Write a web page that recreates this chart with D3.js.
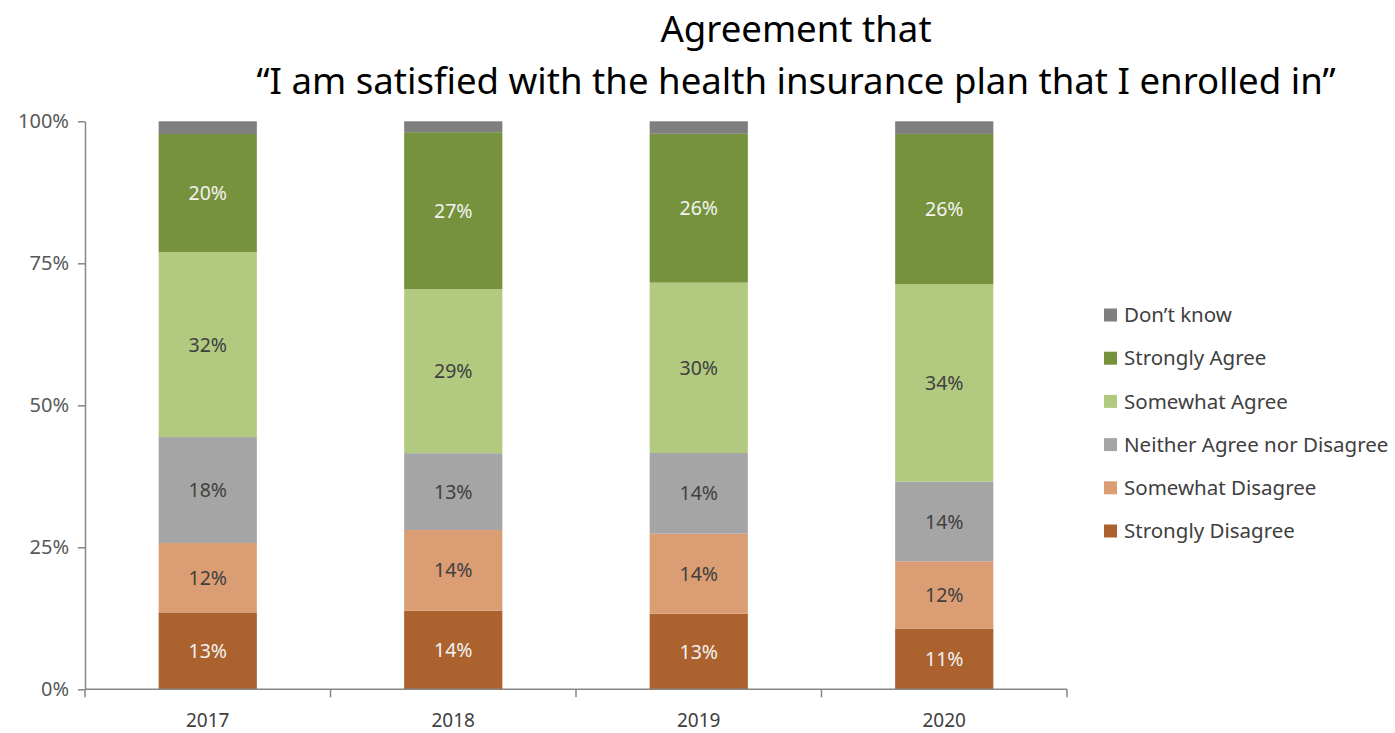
<!DOCTYPE html>
<html><head><meta charset="utf-8">
<script src="https://cdn.jsdelivr.net/npm/d3@7"></script>
<style>
html,body{margin:0;padding:0;background:#fff;}
text{font-family:"Noto Sans","Open Sans",sans-serif;}
</style></head>
<body><svg id="c" width="1395" height="733"></svg>
<script>
const years = ["2017","2018","2019","2020"];
const seriesNames = ["Strongly Disagree","Somewhat Disagree","Neither Agree nor Disagree","Somewhat Agree","Strongly Agree","Don\u2019t know"];
const stronglyDisagree = [13.3, 13.7, 13.3, 10.6];
const somewhatDisagree = [12.0, 14.1, 14.1, 11.7];
const neither          = [18.3, 13.4, 14.2, 13.9];
const somewhatAgree    = [32.0, 28.6, 30.0, 34.4];
const stronglyAgree    = [20.4, 27.4, 26.2, 26.2];
const dontKnow         = [2.2, 1.9, 2.2, 2.2];
const yTicks = [0, 0.25, 0.5, 0.75, 1];
const colors = ["#ab622e","#da9d74","#a5a5a5","#b2ca80","#76923c","#7f7f7f"];
const labelColors = ["#f2f2f2","#404040","#404040","#404040","#f2f2f2",null];

const seriesVals = [stronglyDisagree, somewhatDisagree, neither, somewhatAgree, stronglyAgree, dontKnow];
const rows = years.map((y,i)=>{const o={year:y}; seriesNames.forEach((s,k)=>o[s]=seriesVals[k][i]); return o;});
const stack = d3.stack().keys(seriesNames).offset(d3.stackOffsetExpand)(rows);

const svg = d3.select("#c");
const x0 = 85, x1 = 1067, yTop = 121.3, yBot = 689.3;
const x = d3.scaleBand().domain(years).range([x0, x1]).padding(0);
const y = d3.scaleLinear().domain([0,1]).range([yBot, yTop]);
const bw = x.bandwidth()*0.4;

// bars
const g = svg.append("g");
stack.forEach((layer,k)=>{
  g.selectAll(null).data(layer).enter().append("rect")
    .attr("x", d=>x(d.data.year)+x.bandwidth()/2-bw/2)
    .attr("width", bw)
    .attr("y", d=>y(d[1]))
    .attr("height", d=>y(d[0])-y(d[1]))
    .attr("fill", colors[k]);
  if(labelColors[k]){
    g.selectAll(null).data(layer).enter().append("text")
      .attr("x", d=>x(d.data.year)+x.bandwidth()/2)
      .attr("y", d=>(y(d[0])+y(d[1]))/2)
      .attr("dy","0.36em")
      .attr("text-anchor","middle")
      .attr("font-size",19.5)
      .attr("fill", labelColors[k])
      .text((d,i)=>d3.format(".0f")(seriesVals[k][i])+"%");
  }
});

// y axis
const yAxis = d3.axisLeft(y).tickValues(yTicks).tickFormat(d3.format(".0%")).tickSize(7).tickSizeOuter(0).tickPadding(9);
const ya = svg.append("g").attr("transform",`translate(${x0},0)`).call(yAxis);
ya.attr("font-size",null).attr("font-family",null);
ya.select(".domain").attr("stroke","#868686").attr("stroke-width",1.5);
ya.selectAll(".tick line").attr("stroke","#868686").attr("stroke-width",1.5);
ya.selectAll(".tick text").attr("font-size",20).attr("fill","#595959");

// x axis
const xa = svg.append("g").attr("transform",`translate(0,${yBot})`);
xa.append("line").attr("x1",x0).attr("x2",x1).attr("stroke","#868686").attr("stroke-width",1.5);
const bounds = years.map(d=>x(d)).concat([x1]);
xa.selectAll(null).data(bounds).enter().append("line")
  .attr("x1",d=>d).attr("x2",d=>d).attr("y1",0).attr("y2",8)
  .attr("stroke","#868686").attr("stroke-width",1.5);
xa.selectAll(null).data(years).enter().append("text")
  .attr("x",d=>x(d)+x.bandwidth()/2).attr("y",37.5)
  .attr("text-anchor","middle").attr("font-size",19).attr("fill","#404040").text(d=>d);

// title
const title = svg.append("text").attr("text-anchor","middle").attr("font-size",36.6).attr("fill","#000");
title.append("tspan").attr("x",796).attr("y",42).text("Agreement that");
title.append("tspan").attr("x",796).attr("y",94).text("\u201CI am satisfied with the health insurance plan that I enrolled in\u201D");

// legend
const legendOrder = seriesNames.slice().reverse();
const lg = svg.append("g");
legendOrder.forEach((s,i)=>{
  const cy = 315 + i*43.2;
  const k = seriesNames.indexOf(s);
  lg.append("rect").attr("x",1104).attr("y",cy-6.5).attr("width",13).attr("height",13).attr("fill",colors[k]);
  lg.append("text").attr("x",1124).attr("y",cy).attr("dy","0.35em").attr("font-size",20.5).attr("fill","#404040").text(s);
});
</script></body></html>
